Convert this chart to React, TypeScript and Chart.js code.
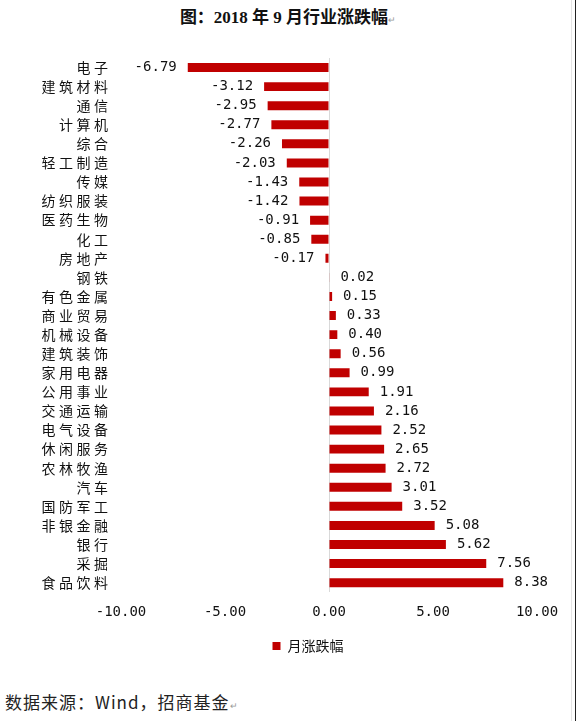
import React, { useEffect, useRef } from "react";
import { Chart, registerables } from "chart.js";

Chart.register(...registerables);

const categories = [
  "电子", "建筑材料", "通信", "计算机", "综合", "轻工制造", "传媒", "纺织服装",
  "医药生物", "化工", "房地产", "钢铁", "有色金属", "商业贸易", "机械设备", "建筑装饰",
  "家用电器", "公用事业", "交通运输", "电气设备", "休闲服务", "农林牧渔", "汽车", "国防军工",
  "非银金融", "银行", "采掘", "食品饮料",
];
const monthlyChange = [
  -6.79, -3.12, -2.95, -2.77, -2.26, -2.03, -1.43, -1.42,
  -0.91, -0.85, -0.17, 0.02, 0.15, 0.33, 0.4, 0.56,
  0.99, 1.91, 2.16, 2.52, 2.65, 2.72, 3.01, 3.52,
  5.08, 5.62, 7.56, 8.38,
];
const seriesName = "月涨跌幅";
const xMin = -10;
const xMax = 10;
const xStep = 5;

const RED = "#C00000";
const NUM_FONT = '14px "DejaVu Sans Mono", monospace';
const CJK_FONT = '"Noto Sans CJK SC", sans-serif';

// value labels at the bar ends + category names on the left
const labelsPlugin = {
  id: "barLabels",
  afterDatasetsDraw(chart: Chart) {
    const ctx = chart.ctx;
    const meta = chart.getDatasetMeta(0);
    ctx.save();
    ctx.textBaseline = "middle";
    ctx.fillStyle = "#111";
    ctx.font = NUM_FONT;
    meta.data.forEach((bar: any, i: number) => {
      const v = monthlyChange[i];
      if (v < 0) {
        ctx.textAlign = "right";
        ctx.fillText(v.toFixed(2), bar.x - 11, bar.y);
      } else {
        ctx.textAlign = "left";
        ctx.fillText(v.toFixed(2), bar.x + 11, bar.y);
      }
    });
    (ctx as any).letterSpacing = "3.5px";
    ctx.font = "14px " + CJK_FONT;
    ctx.textAlign = "right";
    meta.data.forEach((bar: any, i: number) => {
      ctx.fillText(categories[i], 111.5, bar.y);
    });
    ctx.restore();
  },
};

function IndustryChart() {
  const canvasRef = useRef<HTMLCanvasElement>(null);

  useEffect(() => {
    if (!canvasRef.current) return;
    const chart = new Chart(canvasRef.current, {
      type: "bar",
      data: {
        labels: categories,
        datasets: [
          {
            label: seriesName,
            data: monthlyChange,
            backgroundColor: RED,
            borderWidth: 0,
            barPercentage: 0.47,
            categoryPercentage: 1,
          },
        ],
      },
      options: {
        indexAxis: "y",
        animation: false,
        responsive: true,
        maintainAspectRatio: false,
        layout: { padding: { left: 79, right: 39, top: 18, bottom: 17 } },
        plugins: {
          tooltip: { enabled: false },
          legend: {
            position: "bottom",
            labels: {
              boxWidth: 8,
              boxHeight: 8,
              padding: 6,
              color: "#111",
              font: { family: CJK_FONT, size: 14 },
            },
          },
        },
        scales: {
          y: {
            ticks: { display: false },
            grid: { display: false },
            border: { display: false },
            afterFit: (scale: any) => {
              scale.width = 42;
            },
          },
          x: {
            min: xMin,
            max: xMax,
            ticks: {
              stepSize: xStep,
              padding: 12,
              color: "#111",
              font: { family: '"DejaVu Sans Mono", monospace', size: 14 },
              callback: (v: any) => Number(v).toFixed(2),
            },
            grid: {
              drawTicks: false,
              color: (c: any) => (c.tick && c.tick.value === 0 ? "#d9d9d9" : "transparent"),
            },
            border: { display: false },
          },
        },
      },
      plugins: [labelsPlugin],
    });
    return () => chart.destroy();
  }, []);

  return <canvas ref={canvasRef} />;
}

export default function App() {
  return (
    <div
      style={{
        position: "fixed",
        left: 0,
        top: 0,
        width: 576,
        height: 721,
        background: "#fff",
        overflow: "hidden",
      }}
    >
      <div
        style={{
          position: "absolute",
          top: 7,
          left: 0,
          width: 576,
          textAlign: "center",
          fontFamily: '"Liberation Serif", "Noto Sans CJK SC", serif',
          fontWeight: "bold",
          fontSize: 17,
          color: "#111",
          lineHeight: "22px",
        }}
      >
        图：2018 年 9 月行业涨跌幅<span style={{ fontSize: 9, color: "#999", fontWeight: "normal" }}>↵</span>
      </div>
      <div style={{ position: "absolute", top: 40, left: 0, width: 576, height: 640 }}>
        <IndustryChart />
      </div>
      <div
        style={{
          position: "absolute",
          top: 690,
          left: 5,
          fontFamily: '"Noto Sans CJK SC", sans-serif',
          fontSize: 17,
          letterSpacing: 1,
          color: "#222",
          lineHeight: "24px",
          whiteSpace: "nowrap",
        }}
      >
        数据来源：Wind，招商基金<span style={{ fontSize: 9, color: "#999" }}>↵</span>
      </div>
      <div style={{ position: "absolute", top: 0, left: 571, width: 1, height: 721, background: "#e4e4e4" }} />
      <div style={{ position: "absolute", top: 0, left: 575, width: 1, height: 721, background: "#222" }} />
    </div>
  );
}
